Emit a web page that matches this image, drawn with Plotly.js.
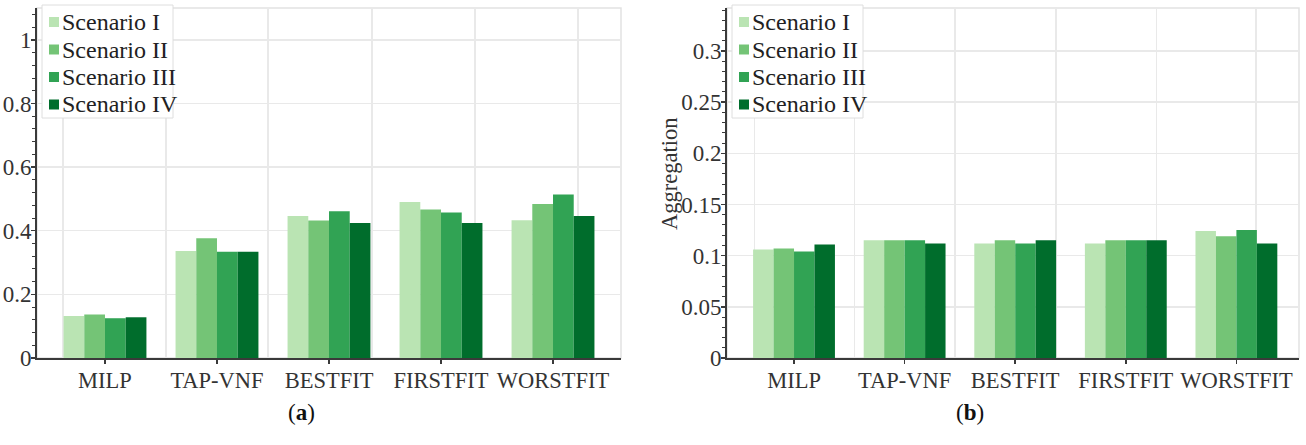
<!DOCTYPE html>
<html>
<head>
<meta charset="utf-8">
<script src="https://cdn.plot.ly/plotly-3.0.1.min.js"></script>
<style>
  html, body { margin: 0; padding: 0; background: #ffffff; }
  #chart { width: 1306px; height: 445px; }
</style>
</head>
<body>
<div id="chart"></div>
<script>
// ---- data ----
const categories = ['MILP', 'TAP-VNF', 'BESTFIT', 'FIRSTFIT', 'WORSTFIT'];
const scenarioNames = ['Scenario I', 'Scenario II', 'Scenario III', 'Scenario IV'];

// (a) left chart
const leftScenarioI   = [0.132, 0.336, 0.446, 0.490, 0.433];
const leftScenarioII  = [0.137, 0.376, 0.432, 0.467, 0.484];
const leftScenarioIII = [0.125, 0.334, 0.461, 0.457, 0.514];
const leftScenarioIV  = [0.128, 0.334, 0.424, 0.424, 0.446];

// (b) right chart: Aggregation
const rightScenarioI   = [0.106, 0.115, 0.112, 0.112, 0.124];
const rightScenarioII  = [0.107, 0.115, 0.115, 0.115, 0.119];
const rightScenarioIII = [0.104, 0.115, 0.112, 0.115, 0.125];
const rightScenarioIV  = [0.111, 0.112, 0.115, 0.115, 0.112];

const leftYTitle = 'Resource utilization';
const rightYTitle = 'Aggregation';
const panelLabels = ['(<b>a</b>)', '(<b>b</b>)'];

// ---- style ----
const colors = ['#bae4b3', '#74c476', '#31a354', '#006d2c'];
const FONT = 'Liberation Serif, Times New Roman, serif';
const FS_X = 22.5, FS_Y = 23, FS_LEG = 24;
const gridColor = '#e9e9e9';
const axisColor = '#3a3a3a';

const leftSeries = [leftScenarioI, leftScenarioII, leftScenarioIII, leftScenarioIV];
const rightSeries = [rightScenarioI, rightScenarioII, rightScenarioIII, rightScenarioIV];

const traces = [];
leftSeries.forEach((vals, i) => {
  traces.push({
    type: 'bar', x: categories, y: vals, name: scenarioNames[i],
    marker: { color: colors[i], line: { width: 0 } },
    xaxis: 'x', yaxis: 'y', showlegend: false, hoverinfo: 'x+y+name'
  });
});
rightSeries.forEach((vals, i) => {
  traces.push({
    type: 'bar', x: categories, y: vals, name: scenarioNames[i],
    marker: { color: colors[i], line: { width: 0 } },
    xaxis: 'x2', yaxis: 'y2', showlegend: false, hoverinfo: 'x+y+name'
  });
});
// empty traces so the overlay grid axes exist
traces.push({ type: 'scatter', x: [], y: [], xaxis: 'x3', yaxis: 'y', showlegend: false, hoverinfo: 'skip' });
traces.push({ type: 'scatter', x: [], y: [], xaxis: 'x4', yaxis: 'y2', showlegend: false, hoverinfo: 'skip' });

const W = 1306, H = 445;
const px = v => v / W;
const py = v => 1 - v / H;

const leftDom = [px(37), px(621)];
const rightDom = [px(727), px(1299)];
const yDom = [py(358), py(8)];
const leftRange = [-0.607, 4.607];
const rightRange = [-0.606, 4.566];

function catAxis(domain, range, anchor) {
  return {
    domain: domain, range: range, anchor: anchor, type: 'category',
    showline: true, linecolor: axisColor, linewidth: 2,
    ticks: 'outside', ticklen: 4, tickwidth: 1.5, tickcolor: axisColor,
    ticklabelstandoff: -3,
    showgrid: false, zeroline: false, automargin: false,
    tickfont: { family: FONT, size: FS_X, color: '#333' }, fixedrange: true
  };
}
function gridAxis(domain, range, overlay, anchor, vals) {
  return {
    domain: domain, range: range, overlaying: overlay, anchor: anchor,
    type: 'linear', tickmode: 'array', tickvals: vals,
    showticklabels: false, ticks: '', showline: false, zeroline: false,
    showgrid: true, gridcolor: gridColor, gridwidth: 1.5, automargin: false, fixedrange: true
  };
}
function valAxis(range, dtick, minorDtick, anchor) {
  return {
    domain: yDom, range: range, anchor: anchor, dtick: dtick, tick0: 0,
    showline: true, linecolor: axisColor, linewidth: 2,
    ticks: 'outside', ticklen: 4, tickwidth: 1.5, tickcolor: axisColor,
    ticklabelstandoff: -5,
    minor: { ticks: 'outside', ticklen: 3, tickwidth: 1, tickcolor: axisColor, dtick: minorDtick, showgrid: false },
    showgrid: true, gridcolor: gridColor, gridwidth: 1.5,
    zeroline: false, automargin: false,
    tickfont: { family: FONT, size: FS_Y, color: '#333' }, fixedrange: true
  };
}

const shapes = [
  { type: 'rect', xref: 'x domain', yref: 'y domain', x0: 0, x1: 1, y0: 0, y1: 1,
    line: { color: '#e2e2e2', width: 1.5 }, layer: 'below' },
  { type: 'rect', xref: 'x2 domain', yref: 'y2 domain', x0: 0, x1: 1, y0: 0, y1: 1,
    line: { color: '#e2e2e2', width: 1.5 }, layer: 'below' }
];
const annotations = [
  { text: rightYTitle, xref: 'paper', yref: 'paper', x: px(669), y: py(174),
    xanchor: 'center', yanchor: 'middle', textangle: -90, showarrow: false,
    font: { family: FONT, size: 22.5, color: '#333' } },
  { text: leftYTitle, xref: 'paper', yref: 'paper', x: px(-9), y: py(245),
    xanchor: 'center', yanchor: 'middle', textangle: -90, showarrow: false,
    font: { family: FONT, size: 22.5, color: '#333' } },
  { text: panelLabels[0], xref: 'paper', yref: 'paper', x: px(301), y: py(412),
    xanchor: 'center', yanchor: 'middle', showarrow: false,
    font: { family: FONT, size: 23, color: '#111' } },
  { text: panelLabels[1], xref: 'paper', yref: 'paper', x: px(970), y: py(412),
    xanchor: 'center', yanchor: 'middle', showarrow: false,
    font: { family: FONT, size: 23, color: '#111' } }
];

// legend boxes (one per panel), built from the scenario names and colours
function addLegend(left, top, right, bottom) {
  shapes.push({ type: 'rect', xref: 'paper', yref: 'paper',
    x0: px(left), x1: px(right), y0: py(bottom), y1: py(top),
    line: { color: '#dedede', width: 1 }, fillcolor: 'rgba(255,255,255,0.96)', layer: 'above' });
  const rowStep = 27.5;
  scenarioNames.forEach((name, i) => {
    const cy = top + 17 + i * rowStep;
    shapes.push({ type: 'rect', xref: 'paper', yref: 'paper',
      x0: px(left + 7), x1: px(left + 17), y0: py(cy + 5), y1: py(cy - 5),
      line: { width: 0 }, fillcolor: colors[i], layer: 'above' });
    annotations.push({ text: name, xref: 'paper', yref: 'paper',
      x: px(left + 18), y: py(cy), xanchor: 'left', yanchor: 'middle', showarrow: false,
      font: { family: FONT, size: FS_LEG, color: '#222' } });
  });
}
addLegend(42, 5, 173, 118);
addLegend(732, 5, 863, 118);

const layout = {
  width: W, height: H,
  margin: { l: 0, r: 0, t: 0, b: 0 },
  paper_bgcolor: '#ffffff', plot_bgcolor: '#ffffff',
  barmode: 'group', bargap: 0.26, bargroupgap: 0,
  showlegend: false,
  font: { family: FONT, size: FS_X, color: '#222' },
  xaxis: catAxis(leftDom, leftRange, 'y'),
  yaxis: valAxis([0, 1.1], 0.2, 0.04, 'x'),
  xaxis2: catAxis(rightDom, rightRange, 'y2'),
  yaxis2: valAxis([0, 0.342], 0.05, 0.01, 'x2'),
  xaxis3: gridAxis(leftDom, leftRange, 'x', 'y', [-0.375, 0.545, 1.455, 2.384, 3.304, 4.223]),
  xaxis4: gridAxis(rightDom, rightRange, 'x2', 'y2', [-0.356, 0.549, 1.456, 2.369, 3.278, 4.177]),
  shapes: shapes,
  annotations: annotations
};

Plotly.newPlot('chart', traces, layout, { displayModeBar: false, staticPlot: true });
</script>
</body>
</html>
